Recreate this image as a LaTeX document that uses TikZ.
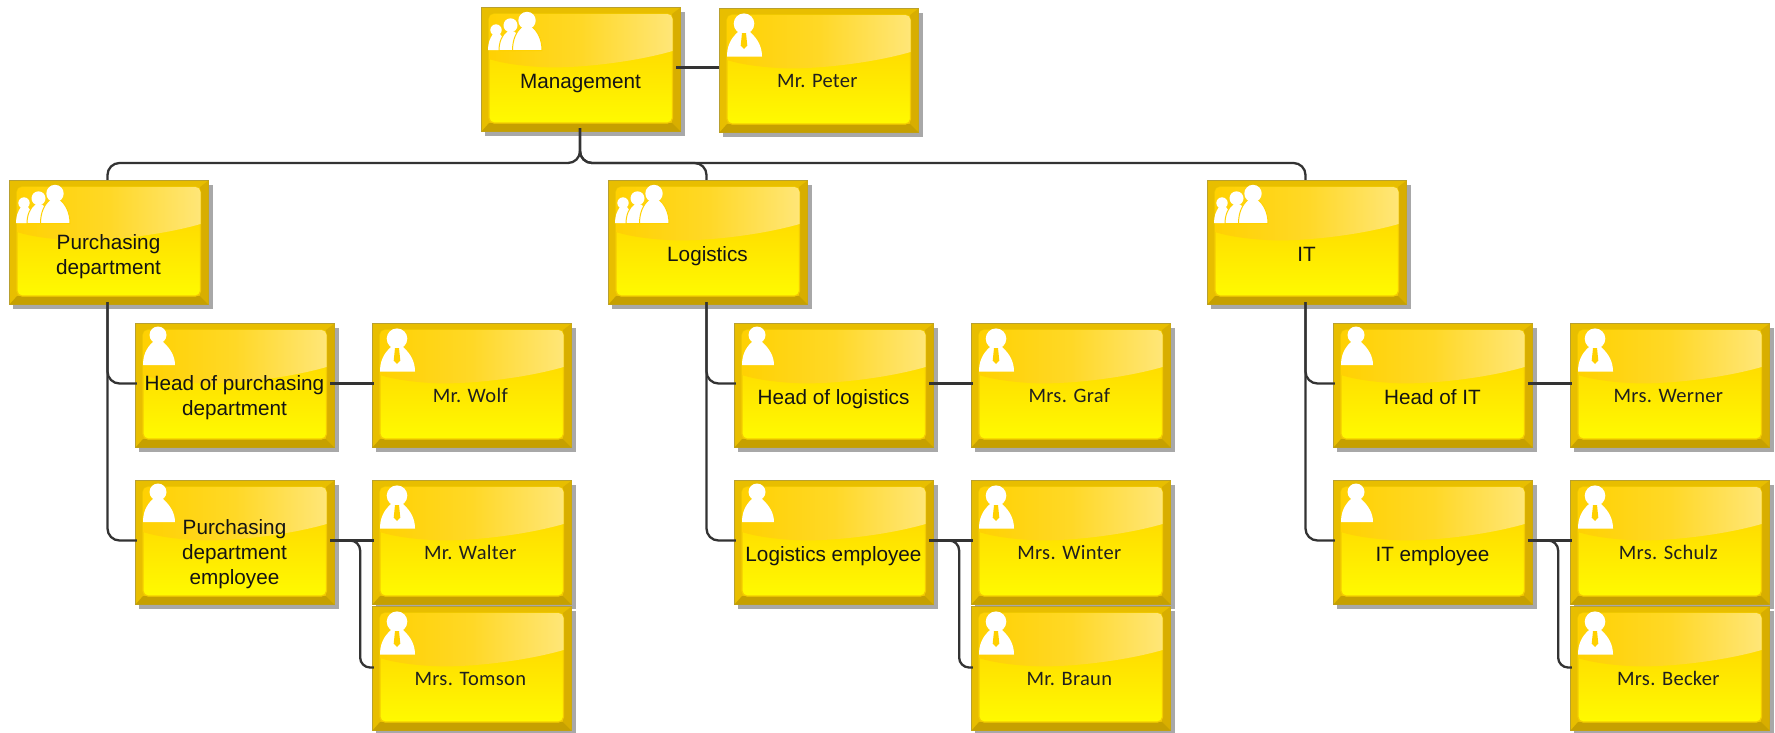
\documentclass[tikz,border=0pt]{standalone}
\usepackage{fontspec}
\setmainfont{Liberation Sans}
\newfontfamily\persfont[LetterSpace=1.5]{Carlito}
\usetikzlibrary{shadows,calc}
\definecolor{bevel}{HTML}{E8BE00}
\definecolor{bevelR}{HTML}{D8AE00}
\definecolor{bevelB}{HTML}{C6A000}
\definecolor{edgeline}{HTML}{B8A030}
\definecolor{shadowgray}{HTML}{A8A8A8}
\definecolor{connline}{HTML}{333333}
\definecolor{glossL}{HTML}{FFD102}
\definecolor{glossM}{HTML}{FFD826}
\definecolor{glossR}{HTML}{FFE678}
\definecolor{panelT}{HTML}{FFDA00}
\definecolor{panelM}{HTML}{FFDD00}
\definecolor{panelB}{HTML}{FFFA00}
\definecolor{panelEdge}{HTML}{F4CC00}
\definecolor{tiecol}{HTML}{FFD000}
\pgfdeclareverticalshading{panelshade}{100bp}{color(0bp)=(panelB); color(25bp)=(panelB); color(58bp)=(panelM); color(75bp)=(panelT); color(100bp)=(panelT)}
\tikzset{
  obox/.style={minimum width=199.5pt,minimum height=124.5pt,inner sep=0pt,draw=edgeline,line width=0.8pt,fill=bevel,
    general shadow={shadow xshift=4.2pt,shadow yshift=-4.5pt,fill=shadowgray}},
  funtext/.style={inner sep=0pt,align=center,font=\fontsize{20.7}{25}\selectfont,text=black!92,
    execute at begin node=\strut,execute at end node=\strut},
  pertext/.style={inner sep=0pt,align=center,xshift=-1.2pt,yshift=1.3pt,font=\persfont\fontsize{20.5}{25}\selectfont,text=black!88,
    execute at begin node=\strut,execute at end node=\strut},
  conn/.style={draw=connline,line width=2.3pt,rounded corners=12pt},
  icon/.style={fill=white,draw=none},
  iconb/.style={fill=white,draw=glossL,line width=1pt}
}
\newcommand\iconrole{%
  \fill[icon] (23,12) circle (8.5);
  \fill[icon] (8,42) .. controls (8,33) and (11,25) .. (18,19) -- (28,19) .. controls (35,25) and (40,33) .. (40,42) -- cycle;
}
\newcommand\icontie{%
  \fill[icon] (25,15.7) circle (10.3);
  \fill[icon] (8,48.5) .. controls (8,39) and (11,31) .. (19,24) -- (31,24) .. controls (39,31) and (43,39) .. (43,48.5) -- cycle;
  \fill[tiecol] (23,25) -- (27,25) -- (28.3,37.5) -- (25,41) -- (21.7,37.5) -- cycle;
}
\newcommand\icongroup{%
  \fill[icon] (15,23) circle (5.7);
  \fill[icon] (7,43) .. controls (7,36) and (9,31) .. (12,27) -- (19,27) -- (24,34) -- (21,43) -- cycle;
  \fill[iconb] (18,43.5) .. controls (18,35) and (21,28) .. (26,24) -- (34,24) -- (40,32) -- (34,43.5) -- cycle;
  \fill[icon] (29.5,18.3) circle (7);
  \fill[iconb] (31.5,43.5) .. controls (31.5,33) and (35,24) .. (42,19) -- (50,19) .. controls (57,24) and (61,33) .. (61,43.5) -- cycle;
  \fill[icon] (46,13.5) circle (8.7);
}
% name, left, top, icon, text style, text
\newcommand\obox[6]{%
  \node[obox] (#1) at (#2+100,#3+62.5) {};
  \begin{scope}[shift={(#2,#3)}]
    \fill[bevelR] (199.6,0.5) -- (199.6,124.6) -- (191,116) -- (191,7) -- cycle;
    \fill[bevelB] (199.6,124.6) -- (0.4,124.6) -- (8,116) -- (191,116) -- cycle;
    \path[shading=panelshade,draw=panelEdge,line width=1.2pt,rounded corners=5pt] (8,7) rectangle (191.5,116);
    \begin{scope}
      \clip[rounded corners=5pt] (8,7) rectangle (191.5,116);
      \shade[left color=glossL,right color=glossR,middle color=glossM]
        (8,7) -- (191.5,7) -- (191.5,44) .. controls (150,56) and (90,62) .. (60,60) .. controls (40,59) and (20,56) .. (8,52) -- cycle;
    \end{scope}
    \csname icon#4\endcsname
  \end{scope}
  \node[#5] (#1t) at (#2+99.5,#3+76.2) {#6};
}
\begin{document}
\begin{tikzpicture}[x=1pt,y=-1pt]
\useasboundingbox (0,0) rectangle (1775,732);
\fill[white] (0,0) rectangle (1775,732);
\obox{mgmt}{481}{7}{group}{funtext}{Management}
\obox{peter}{719}{8}{tie}{pertext}{Mr. Peter}
\obox{pur}{9}{180}{group}{funtext,yshift=-2pt}{Purchasing\\department}
\obox{log}{608}{180}{group}{funtext}{Logistics}
\obox{it}{1207}{180}{group}{funtext}{IT}
\obox{hp}{135}{323}{role}{funtext}{Head of purchasing\\department}
\obox{wolf}{372}{323}{tie}{pertext}{Mr. Wolf}
\obox{ep}{135}{480}{role}{funtext}{Purchasing\\department\\employee}
\obox{walter}{372}{480}{tie}{pertext}{Mr. Walter}
\obox{tomson}{372}{606}{tie}{pertext}{Mrs. Tomson}
\obox{hl}{734}{323}{role}{funtext}{Head of logistics}
\obox{graf}{971}{323}{tie}{pertext}{Mrs. Graf}
\obox{el}{734}{480}{role}{funtext}{Logistics employee}
\obox{winter}{971}{480}{tie}{pertext}{Mrs. Winter}
\obox{braun}{971}{606}{tie}{pertext}{Mr. Braun}
\obox{hi}{1333}{323}{role}{funtext}{Head of IT}
\obox{werner}{1570}{323}{tie}{pertext}{Mrs. Werner}
\obox{ei}{1333}{480}{role}{funtext}{IT employee}
\obox{schulz}{1570}{480}{tie}{pertext}{Mrs. Schulz}
\obox{becker}{1570}{606}{tie}{pertext}{Mrs. Becker}
% management
\draw[conn] ([xshift=-5pt,yshift=2pt]mgmt.east) -- ([yshift=3pt]peter.west);
\coordinate (bus) at (580,163);
\draw[conn] ([xshift=-1pt,yshift=4pt]mgmt.south) -- (bus) -| ([xshift=-1.5pt]pur.north);
\draw[conn] ([xshift=-1pt,yshift=4pt]mgmt.south) -- (bus) -| ([xshift=-1.5pt]log.north);
\draw[conn] ([xshift=-1pt,yshift=4pt]mgmt.south) -- (bus) -| ([xshift=-1.5pt]it.north);
% trunks, roles, persons
\newcommand\wire[7]{%
  \draw[conn] ([xshift=-1.5pt,yshift=3pt]#1.south) |- ([xshift=2pt,yshift=2pt]#2.west);
  \draw[conn] ([xshift=-1.5pt,yshift=3pt]#1.south) |- ([xshift=2pt,yshift=2pt]#3.west);
  \draw[conn] ([xshift=-5pt,yshift=2pt]#2.east) -- ([xshift=2pt,yshift=2pt]#4.west);
  \draw[conn] ([xshift=-5pt,yshift=2pt]#3.east) -- ([xshift=2pt,yshift=2pt]#5.west);
  \coordinate (#7) at ($(#3.east)+(25pt,2pt)$);
  \draw[conn,rounded corners=10pt] ([xshift=-5pt,yshift=2pt]#3.east) -- (#7) |- ([xshift=2pt,yshift=1pt]#6.west);
}
\wire{pur}{hp}{ep}{wolf}{walter}{tomson}{jp}
\wire{log}{hl}{el}{graf}{winter}{braun}{jl}
\wire{it}{hi}{ei}{werner}{schulz}{becker}{ji}
\end{tikzpicture}
\end{document}
